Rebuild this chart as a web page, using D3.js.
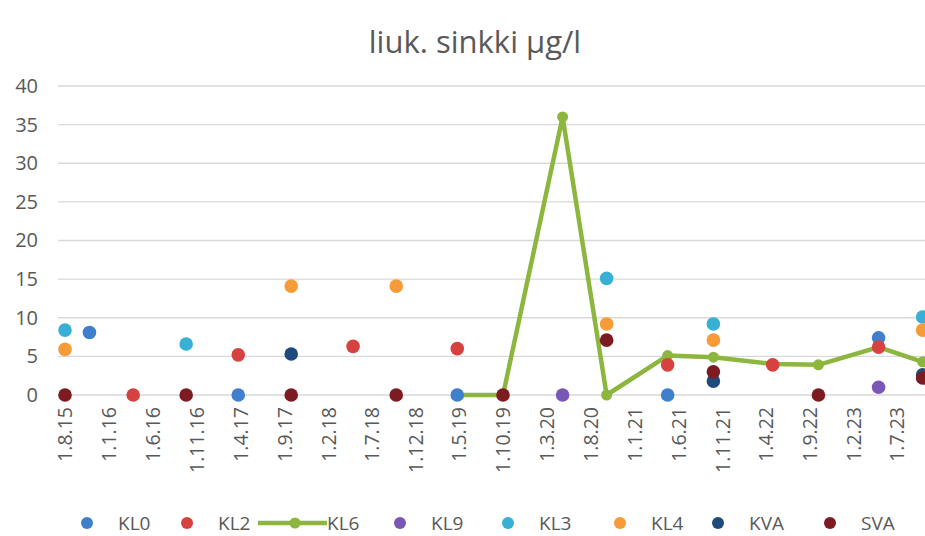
<!DOCTYPE html>
<html>
<head>
<meta charset="utf-8">
<script src="https://cdn.jsdelivr.net/npm/d3@7/dist/d3.min.js"></script>
<style>
  body { margin: 0; background: #fff; }
  text { font-family: 'Open Sans', sans-serif; fill: #595959; }
</style>
</head>
<body>
<div class="chart-container"></div>
<script>
const title = 'liuk. sinkki µg/l';
const tickLabels = ['1.8.15', '1.1.16', '1.6.16', '1.11.16', '1.4.17', '1.9.17', '1.2.18', '1.7.18',
    '1.12.18', '1.5.19', '1.10.19', '1.3.20', '1.8.20', '1.1.21', '1.6.21', '1.11.21', '1.4.22',
    '1.9.22', '1.2.23', '1.7.23'];
const yTicks = [0, 5, 10, 15, 20, 25, 30, 35, 40];

// sampling dates
const sampleDates = ['1.8.15', '25.10.15', '25.3.16', '25.9.16', '25.3.17', '25.9.17', '28.4.18',
    '25.9.18', '25.4.19', '1.10.19', '25.4.20', '25.9.20', '25.4.21', '1.10.21', '25.4.22',
    '1.10.22', '28.4.23', '28.9.23'];

const kl0 = [null, 8.1, null, null, 0, null, null, null, 0, null, null, null, 0, null, null, null, 7.4, null];
const kl2 = [null, null, 0, null, 5.2, null, 6.3, null, 6.0, null, null, null, 3.9, null, 3.9, null, 6.2, null];
const kl6 = [null, null, null, null, null, null, null, null, 0, 0, 36, 0, 5.1, 4.9, 4.0, 3.9, 6.2, 4.3];
const kl9 = [null, null, null, null, null, null, null, null, null, null, 0, null, null, null, null, null, 1.0, null];
const kl3 = [8.4, null, null, 6.6, null, null, null, null, null, null, null, 15.1, null, 9.2, null, null, null, 10.1];
const kl4 = [5.9, null, null, null, null, 14.1, null, 14.1, null, null, null, 9.2, null, 7.1, null, null, null, 8.4];
const kva = [null, null, null, null, null, 5.3, null, null, null, null, null, null, null, 1.8, null, null, null, 2.6];
const sva = [0, null, null, 0, null, 0, null, 0, null, 0, null, 7.1, null, 3.0, null, 0, null, 2.2];

const seriesNames = ['KL0', 'KL2', 'KL6', 'KL9', 'KL3', 'KL4', 'KVA', 'SVA'];
const seriesValues = [kl0, kl2, kl6, kl9, kl3, kl4, kva, sva];
const seriesColors = ['#3f7fcb', '#d6423f', '#8db63e', '#7a57b4', '#38b0d6', '#f79a38', '#1f4a7c', '#7c1c22'];

const width = 925;
const height = 536;
const parse = d3.timeParse('%d.%m.%y');

const series = seriesNames.map((name, i) => ({
    name,
    color: seriesColors[i],
    line: name === 'KL6',
    points: sampleDates.map((d, j) => ({ date: parse(d), value: seriesValues[i][j] }))
        .filter(p => p.value !== null)
}));

const x = d3.scaleTime()
    .domain([parse(tickLabels[0]), parse(tickLabels[tickLabels.length - 1])])
    .range([65, 897]);

const y = d3.scaleLinear()
    .domain([0, 40])
    .range([395, 86]);

const svg = d3.select('.chart-container')
    .append('svg')
    .attr('width', width)
    .attr('height', height);

svg.append('text')
    .attr('x', 475)
    .attr('y', 53)
    .attr('text-anchor', 'middle')
    .style('font-size', '31px')
    .text(title);

// gridlines
svg.append('g')
    .selectAll('line')
    .data(yTicks)
    .enter()
    .append('line')
    .attr('x1', 58)
    .attr('x2', width)
    .attr('y1', d => y(d))
    .attr('y2', d => y(d))
    .attr('stroke', '#d9d9d9')
    .attr('stroke-width', 1.3);

const yAxis = svg.append('g')
    .attr('transform', 'translate(46,0)')
    .call(d3.axisLeft(y).tickValues(yTicks).tickSize(0).tickPadding(8));
yAxis.select('.domain').remove();
yAxis.selectAll('text')
    .style('font-size', '20px')
    .style('font-family', 'Open Sans')
    .attr('fill', '#595959');

const xAxis = svg.append('g')
    .attr('transform', `translate(0,${y(0)})`)
    .call(d3.axisBottom(x).tickValues(tickLabels.map(parse)).tickSize(0)
        .tickFormat((d, i) => tickLabels[i]));
xAxis.select('.domain').remove();
xAxis.selectAll('text')
    .attr('transform', 'rotate(-90)')
    .attr('x', -12)
    .attr('y', 0)
    .attr('dy', '0.35em')
    .attr('text-anchor', 'end')
    .style('font-size', '19.5px')
    .style('font-family', 'Open Sans')
    .attr('fill', '#595959');

// KL6 line first, then the marker-only series on top
const lineGen = d3.line()
    .x(d => x(d.date))
    .y(d => y(d.value));

series.filter(s => s.line).forEach(s => {
    svg.append('path')
        .datum(s.points)
        .attr('fill', 'none')
        .attr('stroke', s.color)
        .attr('stroke-width', 4.5)
        .attr('stroke-linejoin', 'round')
        .attr('d', lineGen);
    svg.append('g')
        .selectAll('circle')
        .data(s.points)
        .enter()
        .append('circle')
        .attr('cx', d => x(d.date))
        .attr('cy', d => y(d.value))
        .attr('r', 5.5)
        .attr('fill', s.color);
});

series.filter(s => !s.line).forEach(s => {
    svg.append('g')
        .selectAll('circle')
        .data(s.points)
        .enter()
        .append('circle')
        .attr('cx', d => x(d.date))
        .attr('cy', d => y(d.value))
        .attr('r', 6.8)
        .attr('fill', s.color);
});

// legend
const legendX = [87, 187, 295, 400, 508, 620, 718, 830];
const legend = svg.append('g')
    .selectAll('g')
    .data(series)
    .enter()
    .append('g')
    .attr('transform', (d, i) => `translate(${legendX[i]},523)`);

legend.filter(d => d.line)
    .append('line')
    .attr('x1', -37)
    .attr('x2', 32)
    .attr('stroke', d => d.color)
    .attr('stroke-width', 4.5);

legend.append('circle')
    .attr('r', d => d.line ? 5.5 : 6)
    .attr('fill', d => d.color);

legend.append('text')
    .attr('x', d => d.line ? 32 : 31)
    .attr('dy', '0.35em')
    .style('font-size', '19px')
    .text(d => d.name);
</script>
</body>
</html>
